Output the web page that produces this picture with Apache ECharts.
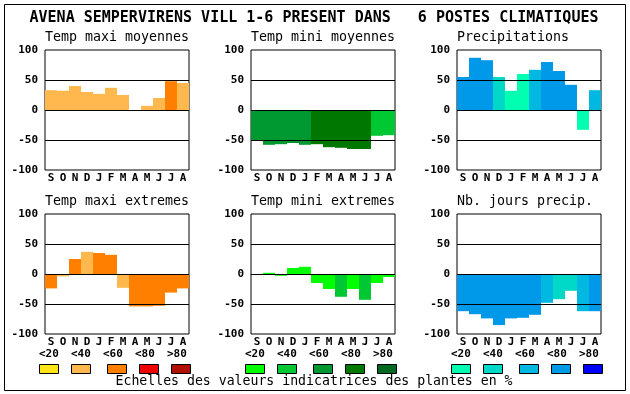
<!DOCTYPE html>
<html><head><meta charset="utf-8">
<script src="https://cdn.jsdelivr.net/npm/echarts@6/dist/echarts.min.js"></script>
<style>html,body{margin:0;padding:0;background:#fff}#c{width:630px;height:394px}</style>
</head><body><div id="c"></div>
<script>
// ---- data ----
const months = ['S','O','N','D','J','F','M','A','M','J','J','A'];
const yMin = -100, yMax = 100, yStep = 50;
const refLines = [50, 0, -50];
const titleMain = 'AVENA SEMPERVIRENS VILL 1-6 PRESENT DANS   6 POSTES CLIMATIQUES';
const panelTitles = ['Temp maxi moyennes','Temp mini moyennes','Precipitations','Temp maxi extremes','Temp mini extremes','Nb. jours precip.'];
const tmaxMoyValues = [33, 32, 40, 30, 27, 37, 25, 0, 7, 20, 48, 45];
const tmaxMoyLevels = [1, 1, 1, 1, 1, 1, 1, 1, 1, 1, 2, 1];
const tminMoyValues = [-50, -58, -57, -55, -58, -57, -62, -63, -65, -65, -43, -42];
const tminMoyLevels = [2, 2, 2, 2, 2, 3, 3, 3, 3, 3, 1, 1];
const precipValues = [55, 87, 83, 55, 32, 60, 67, 80, 65, 42, -33, 33];
const precipLevels = [3, 3, 3, 1, 0, 0, 2, 3, 3, 3, 0, 2];
const tmaxExtValues = [-24, -4, 25, 37, 35, 32, -23, -54, -54, -53, -31, -24];
const tmaxExtLevels = [2, 1, 2, 1, 2, 2, 1, 2, 2, 2, 2, 2];
const tminExtValues = [0, 2, -3, 10, 12, -15, -25, -38, -25, -43, -15, -5];
const tminExtLevels = [0, 0, 0, 0, 0, 0, 0, 1, 0, 1, 0, 0];
const nbJoursValues = [-62, -67, -74, -85, -74, -73, -68, -48, -42, -28, -62, -62];
const nbJoursLevels = [3, 3, 3, 3, 3, 3, 3, 2, 1, 1, 2, 3];
const legendLabels = ['<20','<40','<60','<80','>80'];
const footerText = 'Echelles des valeurs indicatrices des plantes en %';

// ---- styles ----
const orangePal = ['#FFE41A','#FFB84D','#FF8000','#EE0000','#B01000'];
const greenPal  = ['#00FF00','#00C832','#009830','#007800','#006820'];
const bluePal   = ['#00FFB0','#00D8C8','#00B8E0','#0098E8','#0000FF'];
const FONT = '"DejaVu Sans Mono", "Liberation Mono", monospace';

const panels = [
  {values: tmaxMoyValues, levels: tmaxMoyLevels, pal: orangePal},
  {values: tminMoyValues, levels: tminMoyLevels, pal: greenPal},
  {values: precipValues, levels: precipLevels, pal: bluePal},
  {values: tmaxExtValues, levels: tmaxExtLevels, pal: orangePal},
  {values: tminExtValues, levels: tminExtLevels, pal: greenPal},
  {values: nbJoursValues, levels: nbJoursLevels, pal: bluePal}
];
const colLefts = [45, 251, 457];
const rowTops = [50, 214];
const PW = 144, PH = 120;

const grids = [], xAxes = [], yAxes = [], series = [], graphics = [];
panels.forEach((p, i) => {
  const L = colLefts[i % 3], T = rowTops[Math.floor(i / 3)];
  grids.push({left: L, top: T, width: PW, height: PH, show: true, borderColor: '#000', borderWidth: 1, backgroundColor: '#fff'});
  xAxes.push({type: 'category', gridIndex: i, data: months,
    axisLine: {show: false}, axisTick: {show: false},
    axisLabel: {interval: 0, color: '#000', fontFamily: FONT, fontWeight: 'bold', fontSize: 11, margin: 3}});
  yAxes.push({type: 'value', gridIndex: i, min: yMin, max: yMax, interval: yStep,
    splitLine: {show: false}, axisLine: {show: false}, axisTick: {show: false},
    axisLabel: {color: '#000', fontFamily: FONT, fontWeight: 'bold', fontSize: 11, margin: 7}});
  series.push({type: 'bar', xAxisIndex: i, yAxisIndex: i, barCategoryGap: '0%', barGap: '0%',
    data: p.values.map((v, k) => ({value: v, itemStyle: {color: p.pal[p.levels[k]]}})),
    markLine: {silent: true, symbol: 'none', animation: false, label: {show: false},
      lineStyle: {color: '#000', width: 1, type: 'solid'},
      data: refLines.map(y => ({yAxis: y}))}});
  graphics.push({type: 'text', x: L, y: T - 12,
    style: {text: panelTitles[i], font: '13.3px ' + FONT, fill: '#000', textAlign: 'left', textVerticalAlign: 'middle'}});
});

// frame
graphics.push({type: 'rect', shape: {x: 4.5, y: 4.5, width: 621, height: 386}, style: {fill: null, stroke: '#000', lineWidth: 1}});
// main title
graphics.push({type: 'text', x: 314, y: 18, style: {text: titleMain, font: 'bold 15px ' + FONT, fill: '#000', textAlign: 'center', textVerticalAlign: 'middle'}});
// legend scales
const groupX = [39, 245, 451];
const labelOff = [0, 32, 64, 96, 128];
const boxOff = [0, 32, 68, 100, 132];
[orangePal, greenPal, bluePal].forEach((pal, g) => {
  legendLabels.forEach((lab, k) => {
    graphics.push({type: 'text', x: groupX[g] + labelOff[k], y: 354,
      style: {text: lab, font: 'bold 11px ' + FONT, fill: '#000', textAlign: 'left', textVerticalAlign: 'middle'}});
    graphics.push({type: 'rect', shape: {x: groupX[g] + boxOff[k] + 0.5, y: 364.5, width: 19, height: 9},
      style: {fill: pal[k], stroke: '#000', lineWidth: 1}});
  });
});
graphics.push({type: 'text', x: 314, y: 382, style: {text: footerText, font: '13.2px ' + FONT, fill: '#000', textAlign: 'center', textVerticalAlign: 'middle'}});

const chart = echarts.init(document.getElementById('c'), null, {renderer: 'canvas'});
chart.setOption({
  animation: false,
  backgroundColor: '#fff',
  grid: grids, xAxis: xAxes, yAxis: yAxes, series: series,
  graphic: {elements: graphics}
});
</script>
</body></html>
